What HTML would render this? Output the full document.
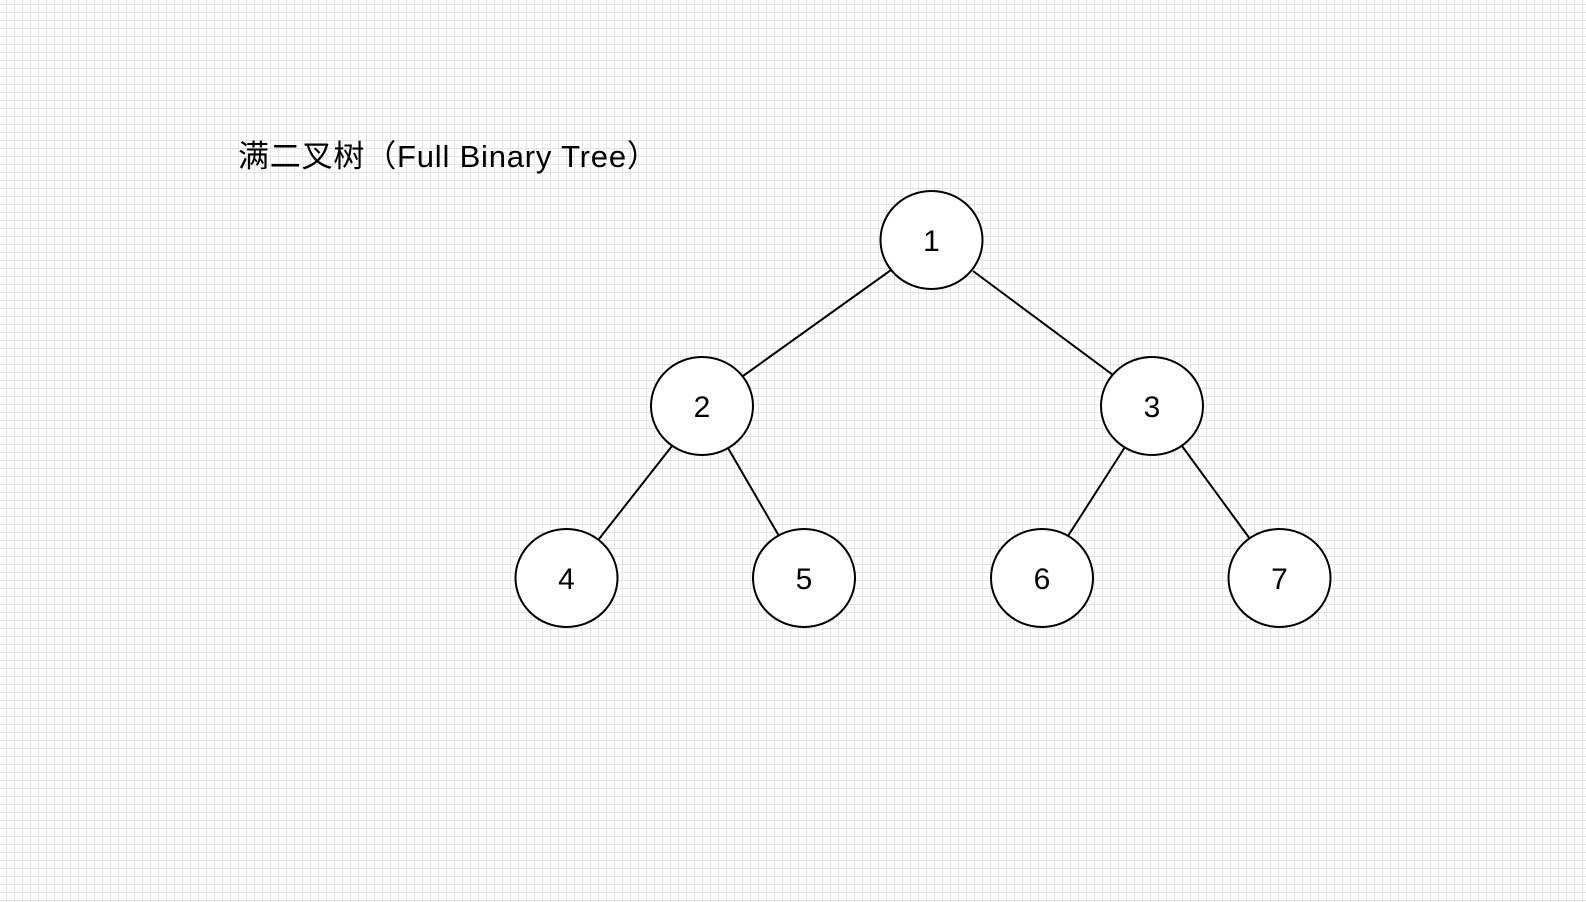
<!DOCTYPE html>
<html><head><meta charset="utf-8"><style>
html,body{margin:0;padding:0;}
body{width:1586px;height:902px;overflow:hidden;background-color:#fff;
background-image:linear-gradient(to right,#e3e3e3 1px,transparent 1px),linear-gradient(to bottom,#e3e3e3 1px,transparent 1px);
background-size:8px 8px;background-position:6px 4px;}
svg{position:absolute;left:0;top:0;}
</style></head><body>
<svg width="1586" height="902" xmlns="http://www.w3.org/2000/svg">
<text x="238" y="167" font-family="Liberation Sans, Noto Sans CJK SC, sans-serif" font-size="31" letter-spacing="0.8" fill="#000">满二叉树（Full Binary Tree）</text>
<g stroke="#000" stroke-width="2" fill="none">
<line x1="891" y1="270" x2="743" y2="376"/>
<line x1="973" y1="271" x2="1113" y2="375"/>
<line x1="672" y1="446" x2="599" y2="539"/>
<line x1="728" y1="448" x2="779" y2="536"/>
<line x1="1125" y1="447" x2="1068" y2="536"/>
<line x1="1182" y1="446" x2="1250" y2="539"/>
</g>
<g stroke="#000" stroke-width="2" fill="#fff">
<ellipse cx="931.5" cy="240" rx="51" ry="49"/>
<ellipse cx="702" cy="406" rx="51" ry="49"/>
<ellipse cx="1152" cy="406" rx="51" ry="49"/>
<ellipse cx="566.5" cy="578" rx="51" ry="49"/>
<ellipse cx="804" cy="578" rx="51" ry="49"/>
<ellipse cx="1042" cy="578" rx="51" ry="49"/>
<ellipse cx="1279.5" cy="578" rx="51" ry="49"/>
</g>
<g font-family="Liberation Sans, sans-serif" font-size="30" text-anchor="middle" fill="#000">
<text x="931.5" y="251">1</text>
<text x="702" y="417">2</text>
<text x="1152" y="417">3</text>
<text x="566.5" y="589">4</text>
<text x="804" y="589">5</text>
<text x="1042" y="589">6</text>
<text x="1279.5" y="589">7</text>
</g>
</svg>
</body></html>
